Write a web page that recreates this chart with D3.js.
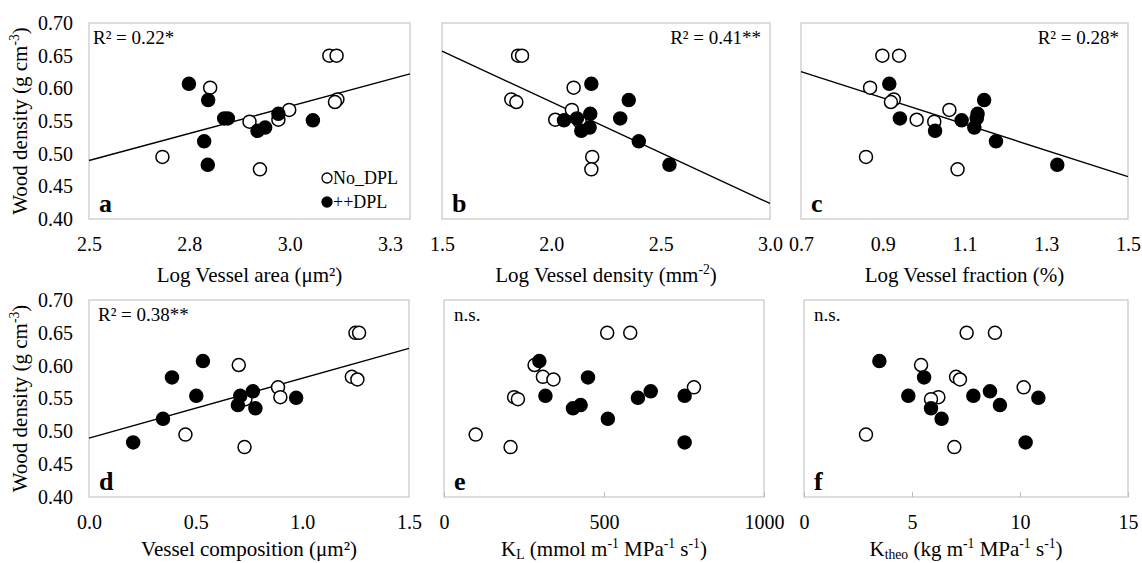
<!doctype html>
<html>
<head>
<meta charset="utf-8" />
<script src="https://d3js.org/d3.v7.min.js"></script>
<style>
  body { margin: 0; background: #fff; }
</style>
</head>
<body>
<script>
// wood density of the 20 samples (same for every panel)
var densityNoDPL  = [0.650, 0.650, 0.601, 0.583, 0.579, 0.567, 0.552, 0.549, 0.495, 0.476];
var densityDPL    = [0.607, 0.582, 0.561, 0.554, 0.554, 0.551, 0.540, 0.535, 0.519, 0.483];

// x values per panel, same sample order as the density arrays
var areaNoDPL     = [3.099, 3.117, 2.802, 3.119, 3.113, 2.999, 2.972, 2.900, 2.683, 2.926];
var areaDPL       = [2.749, 2.797, 2.972, 2.837, 2.846, 3.058, 2.939, 2.920, 2.787, 2.796];
var densVNoDPL    = [1.848, 1.866, 2.102, 1.817, 1.840, 2.094, 2.018, 2.130, 2.187, 2.183];
var densVDPL      = [2.183, 2.354, 2.178, 2.117, 2.315, 2.058, 2.175, 2.137, 2.400, 2.540];
var fractionNoDPL = [0.899, 0.940, 0.869, 0.927, 0.920, 1.063, 0.983, 1.026, 0.859, 1.083];
var fractionDPL   = [0.916, 1.148, 1.132, 0.942, 1.130, 1.093, 1.124, 1.028, 1.177, 1.327];
var compNoDPL     = [1.249, 1.266, 0.702, 1.232, 1.258, 0.886, 0.897, 0.733, 0.452, 0.729];
var compDPL       = [0.534, 0.389, 0.768, 0.503, 0.709, 0.971, 0.698, 0.780, 0.347, 0.207];
var klNoDPL       = [510, 582, 283, 309, 342, 781, 219, 231, 99, 208];
var klDPL         = [298, 450, 646, 317, 752, 606, 427, 403, 512, 752];
var ktheoNoDPL    = [7.53, 8.84, 5.42, 7.04, 7.22, 10.17, 6.22, 5.88, 2.87, 6.96];
var ktheoDPL      = [3.49, 5.56, 8.61, 4.83, 7.84, 10.85, 9.07, 5.88, 6.37, 10.26];

var yTicks = [0.40, 0.45, 0.50, 0.55, 0.60, 0.65, 0.70];
var statLabels = ["R\u00b2 = 0.22*", "R\u00b2 = 0.41**", "R\u00b2 = 0.28*", "R\u00b2 = 0.38**", "n.s.", "n.s."];
var panelLetters = ["a", "b", "c", "d", "e", "f"];

var FONT = "'Liberation Serif', 'Times New Roman', 'DejaVu Serif', serif";

var panels = [
  {open: areaNoDPL, filled: areaDPL, dom: [2.5, 3.3], ticks: [2.5, 2.75, 3.0, 3.25], fmt: ".1f",
   title: [["Log Vessel area (\u03bcm\u00b2)"]], box: [89, 410, 23, 219], fit: true, statRight: false, yAxis: true, legend: true},
  {open: densVNoDPL, filled: densVDPL, dom: [1.5, 3.0], ticks: [1.5, 2.0, 2.5, 3.0], fmt: ".1f",
   title: [["Log Vessel density (mm"], ["-2", "sup"], [")"]], box: [442, 770, 23, 219], fit: true, statRight: true},
  {open: fractionNoDPL, filled: fractionDPL, dom: [0.7, 1.5], ticks: [0.7, 0.9, 1.1, 1.3, 1.5], fmt: ".1f",
   title: [["Log Vessel fraction (%)"]], box: [801, 1128, 23, 219], fit: true, statRight: true},
  {open: compNoDPL, filled: compDPL, dom: [0, 1.5], ticks: [0, 0.5, 1.0, 1.5], fmt: ".1f",
   title: [["Vessel composition (\u03bcm\u00b2)"]], box: [89, 409, 300, 497], fit: true, statRight: false, yAxis: true},
  {open: klNoDPL, filled: klDPL, dom: [0, 1000], ticks: [0, 500, 1000], fmt: "d", innerTicks: true,
   title: [["K"], ["L", "sub"], [" (mmol m"], ["-1", "sup"], [" MPa"], ["-1", "sup"], [" s"], ["-1", "sup"], [")"]],
   box: [444, 764, 300, 497], fit: false},
  {open: ktheoNoDPL, filled: ktheoDPL, dom: [0, 15], ticks: [0, 5, 10, 15], fmt: "d", innerTicks: true,
   title: [["K"], ["theo", "sub"], [" (kg m"], ["-1", "sup"], [" MPa"], ["-1", "sup"], [" s"], ["-1", "sup"], [")"]],
   box: [804, 1128, 300, 497], fit: false}
];

var svg = d3.select("body").append("svg").attr("width", 1142).attr("height", 563)
  .attr("font-family", FONT).style("font-family", FONT);

// text with small raised / lowered pieces
function richText(sel, parts, size) {
  var shift = 0;
  parts.forEach(function(p) {
    var t = sel.append("tspan").text(p[0]).style("font-family", FONT);
    var want = p[1] == "sup" ? -0.4 * size : (p[1] == "sub" ? 0.15 * size : 0);
    t.attr("dy", want - shift);
    shift = want;
    if (p[1]) t.style("font-size", (size * 0.65) + "px");
  });
}

panels.forEach(function(p, i) {
  var L = p.box[0], R = p.box[1], T = p.box[2], B = p.box[3];
  var x = d3.scaleLinear().domain(p.dom).range([L, R]);
  var y = d3.scaleLinear().domain([0.4, 0.7]).range([B, T]);
  var g = svg.append("g");

  g.append("rect").attr("x", L).attr("y", T).attr("width", R - L).attr("height", B - T)
    .attr("fill", "none").attr("stroke", "#cbcbcb").attr("stroke-width", 1.3);

  var xAxis = d3.axisBottom(x).tickValues(p.ticks).tickFormat(d3.format(p.fmt))
    .tickSizeOuter(0).tickSizeInner(p.innerTicks ? -5 : 0).tickPadding(18);
  var xa = g.append("g").attr("transform", "translate(0," + B + ")").call(xAxis);
  xa.attr("font-family", FONT);
  xa.select(".domain").remove();
  xa.selectAll("line").attr("stroke", "#bdbdbd");
  xa.selectAll("text").style("font-size", "20px").style("font-family", FONT).attr("fill", "#000");

  if (p.yAxis) {
    var ya = g.append("g").attr("transform", "translate(" + L + ",0)")
      .call(d3.axisLeft(y).tickValues(yTicks).tickFormat(d3.format(".2f")).tickSize(0).tickPadding(16));
    ya.attr("font-family", FONT);
    ya.select(".domain").remove();
    ya.selectAll("text").style("font-size", "20px").style("font-family", FONT).attr("fill", "#000");
    var yt = g.append("text").attr("transform", "translate(27," + ((T + B) / 2) + ") rotate(-90)")
      .attr("text-anchor", "middle").style("font-size", "21px").style("font-family", FONT);
    richText(yt, [["Wood density (g cm"], ["-3", "sup"], [")"]], 21);
  }

  var xt = g.append("text").attr("x", (L + R) / 2).attr("y", B + (i < 3 ? 63 : 59))
    .attr("text-anchor", "middle").style("font-size", "21px").style("font-family", FONT);
  richText(xt, p.title, 21);

  if (p.fit) {
    var xs = p.open.concat(p.filled), ys = densityNoDPL.concat(densityDPL);
    var mx = d3.mean(xs), my = d3.mean(ys);
    var sxy = d3.sum(xs, function(v, k) { return (v - mx) * (ys[k] - my); });
    var sxx = d3.sum(xs, function(v) { return (v - mx) * (v - mx); });
    var b = sxy / sxx, a = my - b * mx;
    g.append("line").attr("x1", x(p.dom[0])).attr("y1", y(a + b * p.dom[0]))
      .attr("x2", x(p.dom[1])).attr("y2", y(a + b * p.dom[1]))
      .attr("stroke", "#000").attr("stroke-width", 1.4);
  }

  g.selectAll("circle.open").data(p.open).join("circle").attr("class", "open")
    .attr("cx", function(d) { return x(d); }).attr("cy", function(d, k) { return y(densityNoDPL[k]); })
    .attr("r", 6.5).attr("fill", "#fff").attr("stroke", "#000").attr("stroke-width", 1.5);
  g.selectAll("circle.filled").data(p.filled).join("circle").attr("class", "filled")
    .attr("cx", function(d) { return x(d); }).attr("cy", function(d, k) { return y(densityDPL[k]); })
    .attr("r", 6.5).attr("fill", "#000").attr("stroke", "#000").attr("stroke-width", 1.5);

  var st = g.append("text").style("font-size", "19px").style("font-family", FONT).text(statLabels[i]);
  if (p.statRight) st.attr("x", R - 9).attr("y", T + 21).attr("text-anchor", "end");
  else st.attr("x", L + (i == 0 ? 4 : (i == 3 ? 9 : 10))).attr("y", T + 21);

  g.append("text").attr("x", L + 10).attr("y", B - 7).style("font-size", "26px")
    .style("font-family", FONT).style("font-weight", "bold").text(panelLetters[i]);

  if (p.legend) {
    [["No_DPL", "#fff", 178], ["++DPL", "#000", 202]].forEach(function(l) {
      g.append("circle").attr("cx", 327).attr("cy", l[2]).attr("r", 5)
        .attr("fill", l[1]).attr("stroke", "#000").attr("stroke-width", 1.3);
      g.append("text").attr("x", 333).attr("y", l[2] + 6).style("font-size", "18px")
        .style("font-family", FONT).text(l[0]);
    });
  }
});
</script>
</body>
</html>
